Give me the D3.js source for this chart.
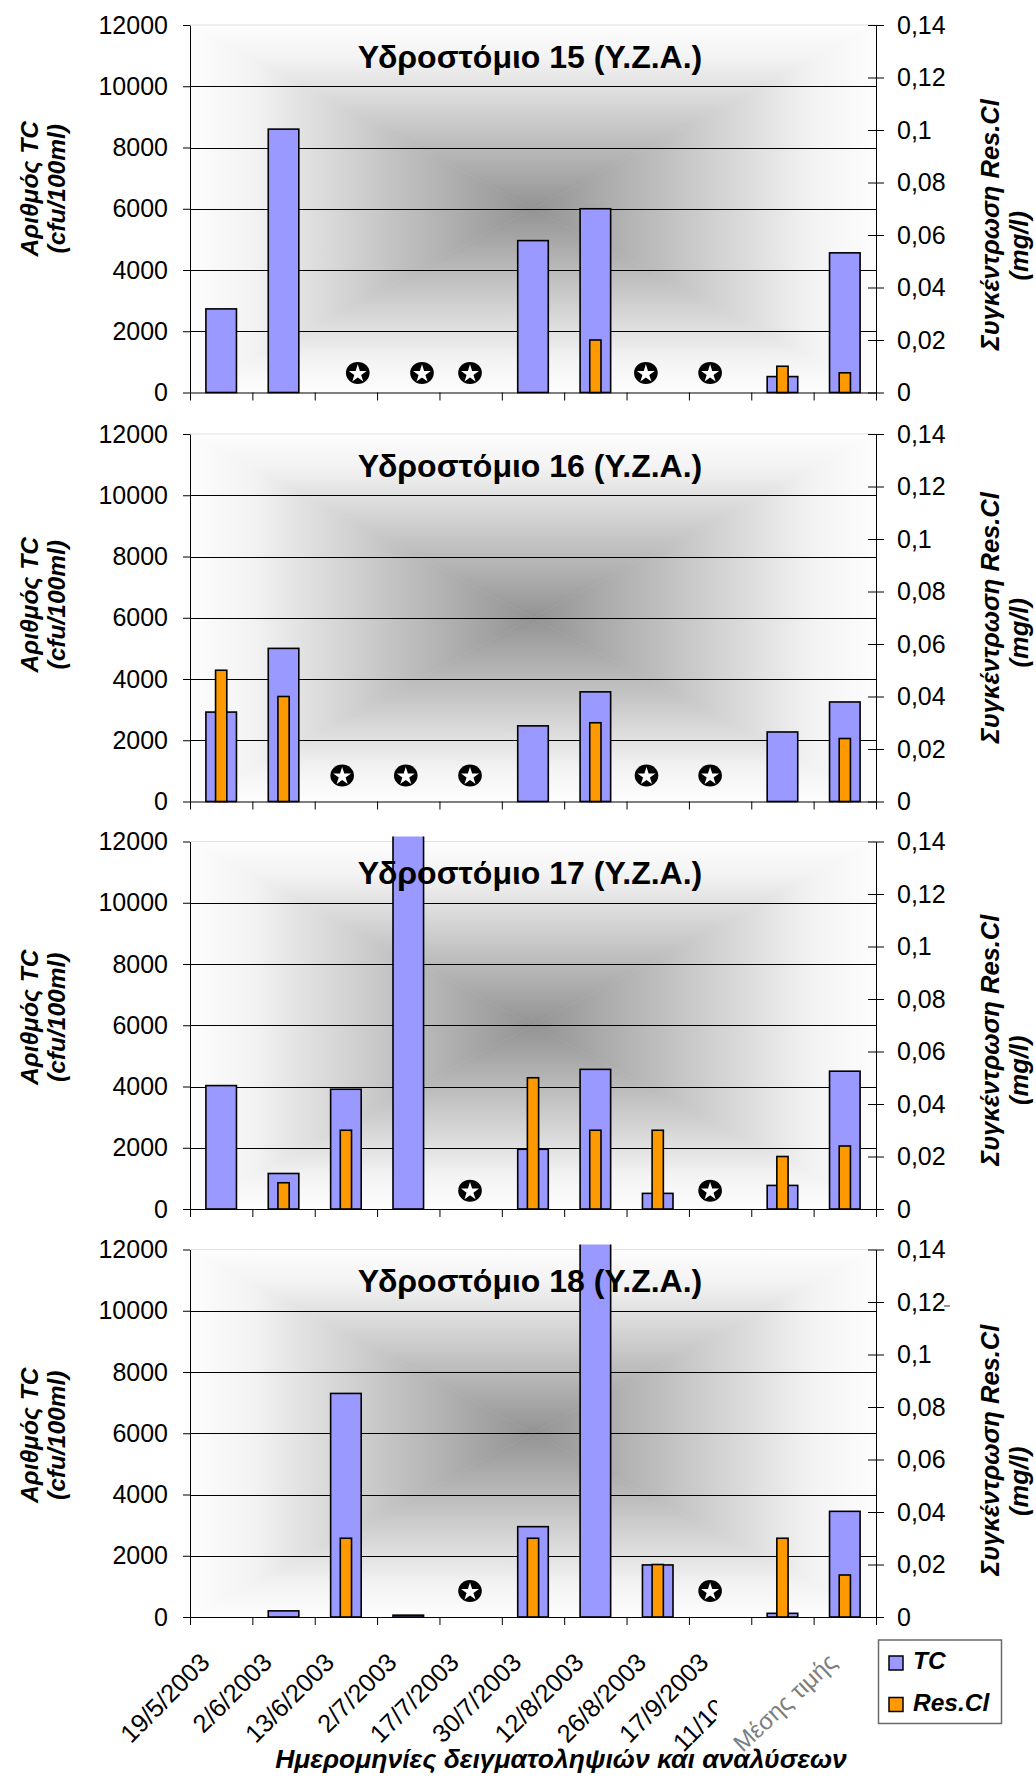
<!DOCTYPE html>
<html>
<head>
<meta charset="utf-8">
<script src="https://cdn.jsdelivr.net/npm/d3@7"></script>
<style>
  html, body { margin: 0; padding: 0; background: #fff; }
  svg { display: block; font-family: "Liberation Sans", Arial, sans-serif; }
</style>
</head>
<body>
<svg id="chart" width="1036" height="1780"></svg>
<script>
// Sampling dates (last category is the mean value column)
const categories = ["19/5/2003", "2/6/2003", "13/6/2003", "2/7/2003", "17/7/2003",
  "30/7/2003", "12/8/2003", "26/8/2003", "17/9/2003", "11/10/2003", "Μέσης τιμής"];

const stationTitles = ["Υδροστόμιο 15 (Υ.Ζ.Α.)", "Υδροστόμιο 16 (Υ.Ζ.Α.)",
  "Υδροστόμιο 17 (Υ.Ζ.Α.)", "Υδροστόμιο 18 (Υ.Ζ.Α.)"];

// Total coliforms (cfu/100ml); null = no sample taken
const tc15 = [2730, 8600, null, null, null, 4960, 6000, null, null, 520, 4560];
const tc16 = [2920, 5000, null, null, null, 2470, 3580, null, null, 2270, 3250];
const tc17 = [4030, 1160, 3910, 19000, null, 1950, 4560, 510, null, 770, 4500];
const tc18 = [0, 200, 7300, 60, null, 2950, 15300, 1700, null, 120, 3450];

// Residual chlorine (mg/l)
const cl15 = [0, 0, null, null, null, 0, 0.02, null, null, 0.01, 0.0075];
const cl16 = [0.05, 0.04, null, null, null, 0, 0.03, null, null, 0, 0.024];
const cl17 = [0, 0.01, 0.03, 0, null, 0.05, 0.03, 0.03, null, 0.02, 0.024];
const cl18 = [0, 0, 0.03, 0, null, 0.03, 0, 0.02, null, 0.03, 0.016];

// "No sample" star markers: position along the category axis (in category units)
const stars15 = [2.69, 3.72, 4.49, 7.31, 8.34];
const stars16 = [2.44, 3.46, 4.49, 7.32, 8.34];
const stars17 = [4.49, 8.34];
const stars18 = [4.49, 8.34];
// height of the star markers on the TC axis
const starLevels = [640, 850, 600, 850];

const tcTicks = [0, 2000, 4000, 6000, 8000, 10000, 12000];
const clTicks = [0, 0.02, 0.04, 0.06, 0.08, 0.1, 0.12, 0.14];

const seriesNames = ["TC", "Res.Cl"];
const seriesColors = ["#9999FF", "#FF9900"];

const stations = [
  { title: stationTitles[0], tc: tc15, cl: cl15, stars: stars15, starLevel: starLevels[0] },
  { title: stationTitles[1], tc: tc16, cl: cl16, stars: stars16, starLevel: starLevels[1] },
  { title: stationTitles[2], tc: tc17, cl: cl17, stars: stars17, starLevel: starLevels[2] },
  { title: stationTitles[3], tc: tc18, cl: cl18, stars: stars18, starLevel: starLevels[3] }
];

// ---- layout ----
const X0 = 190, X1 = 876;
const panelTops = [25, 434, 841.5, 1249.5];
const panelH = 367.5;
// vertical offsets of the rotated axis titles from the panel centre
const leftTitleShift = [-20, -13, -8, 2];
const rightTitleShift = [[16, 37], [0, 15], [15, 45], [17, 48]];

const svg = d3.select("#chart");
const defs = svg.append("defs");

const xBand = d3.scaleBand().domain(d3.range(categories.length)).range([X0, X1]);
const xPos = d3.scaleLinear().domain([0, categories.length]).range([X0, X1]);

// rectangular "from centre" shading of a plot area, built from four triangles
function centreShade(g, x0, y0, x1, y1, id) {
  const cx = (x0 + x1) / 2, cy = (y0 + y1) / 2;
  const parts = [
    { pts: [[x0, y0], [x1, y0], [cx, cy]], from: [cx, y0] },
    { pts: [[x0, y1], [x1, y1], [cx, cy]], from: [cx, y1] },
    { pts: [[x0, y0], [x0, y1], [cx, cy]], from: [x0, cy] },
    { pts: [[x1, y0], [x1, y1], [cx, cy]], from: [x1, cy] }
  ];
  parts.forEach((p, k) => {
    const gid = `shade-${id}-${k}`;
    const lg = defs.append("linearGradient").attr("id", gid)
      .attr("gradientUnits", "userSpaceOnUse")
      .attr("x1", p.from[0]).attr("y1", p.from[1]).attr("x2", cx).attr("y2", cy);
    lg.append("stop").attr("offset", 0).attr("stop-color", "#fdfdfd");
    lg.append("stop").attr("offset", 0.18).attr("stop-color", "#f3f3f3");
    lg.append("stop").attr("offset", 1).attr("stop-color", "#939393");
    g.append("path")
      .attr("d", d3.line()(p.pts) + "Z")
      .attr("fill", `url(#${gid})`)
      .attr("stroke", `url(#${gid})`)
      .attr("stroke-width", 0.6);
  });
}

const starPath = d3.symbol().type(d3.symbolStar).size(100)();

stations.forEach((st, i) => {
  const top = panelTops[i], bottom = top + panelH;
  const yTC = d3.scaleLinear().domain([0, 12000]).range([bottom, top]);
  const yCl = d3.scaleLinear().domain([0, 0.14]).range([bottom, top]);
  const g = svg.append("g");

  centreShade(g, X0, top, X1, bottom, i);

  // plot area top edge
  g.append("line").attr("x1", X0).attr("x2", X1).attr("y1", top).attr("y2", top)
    .attr("stroke", "#e2e2e2").attr("stroke-width", 1);

  // gridlines
  g.selectAll(".grid").data(tcTicks.filter(t => t > 0 && t < 12000)).join("line")
    .attr("x1", X0).attr("x2", X1)
    .attr("y1", d => Math.round(yTC(d)) + 0.5).attr("y2", d => Math.round(yTC(d)) + 0.5)
    .attr("stroke", "#000").attr("stroke-width", 1);

  // bars (clipped just above the plot area)
  const clipId = `clip-${i}`;
  defs.append("clipPath").attr("id", clipId).append("rect")
    .attr("x", X0 - 2).attr("y", top - 5).attr("width", X1 - X0 + 4).attr("height", panelH + 7);
  const bars = g.append("g").attr("clip-path", `url(#${clipId})`);
  const bw = xBand.bandwidth();
  const tcW = bw * 0.49, clW = bw * 0.18;

  bars.selectAll(".tc").data(st.tc.map((v, k) => ({ v, k })).filter(d => d.v != null && d.v > 0))
    .join("rect")
    .attr("x", d => xBand(d.k) + bw / 2 - tcW / 2)
    .attr("width", tcW)
    .attr("y", d => yTC(d.v))
    .attr("height", d => yTC(0) - yTC(d.v))
    .attr("fill", seriesColors[0]).attr("stroke", "#000").attr("stroke-width", 1.6);

  bars.selectAll(".cl").data(st.cl.map((v, k) => ({ v, k })).filter(d => d.v != null && d.v > 0))
    .join("rect")
    .attr("x", d => xBand(d.k) + bw / 2 - clW / 2)
    .attr("width", clW)
    .attr("y", d => yCl(d.v))
    .attr("height", d => yCl(0) - yCl(d.v))
    .attr("fill", seriesColors[1]).attr("stroke", "#000").attr("stroke-width", 1.6);

  // title, drawn over the bars
  g.append("text")
    .attr("x", (X0 + X1) / 2 - 3).attr("y", top + 42.5)
    .attr("text-anchor", "middle")
    .attr("font-size", 32).attr("font-weight", "bold")
    .text(st.title);

  // "no sample" markers
  const sg = g.selectAll(".star").data(st.stars).join("g")
    .attr("transform", d => `translate(${xPos(d)},${yTC(st.starLevel)})`);
  sg.append("ellipse").attr("rx", 11.8).attr("ry", 11).attr("fill", "#000");
  sg.append("path").attr("d", starPath).attr("fill", "#fff").attr("transform", "translate(0,0.9)");

  // left axis
  const axL = g.append("g").attr("transform", `translate(${X0},0)`)
    .call(d3.axisLeft(yTC).tickValues(tcTicks).tickSize(7).tickSizeOuter(0).tickPadding(15)
      .tickFormat(d3.format("d")));
  axL.select(".domain").attr("stroke", "#000");
  axL.selectAll("text").attr("font-size", 25).attr("font-family", "Liberation Sans, Arial, sans-serif").attr("fill", "#000");

  // right axis (ticks cross the axis line)
  const axR = g.append("g").attr("transform", `translate(${X1},0)`)
    .call(d3.axisRight(yCl).tickValues(clTicks).tickSize(8).tickSizeOuter(0).tickPadding(13)
      .tickFormat(d => d === 0 ? "0" : String(d).replace(".", ",")));
  axR.selectAll(".tick line").attr("x1", -8).attr("x2", 8);
  axR.selectAll("text").attr("font-size", 25).attr("font-family", "Liberation Sans, Arial, sans-serif").attr("fill", "#000");

  // category axis with tick marks between categories
  const axB = g.append("g").attr("transform", `translate(0,${bottom})`)
    .call(d3.axisBottom(xPos).tickValues(d3.range(categories.length + 1)).tickSize(8)
      .tickSizeOuter(0).tickFormat(""));
  axB.select(".domain").attr("stroke", "#000");

  // axis titles
  const cy = (top + bottom) / 2;
  const lt = g.append("text")
    .attr("transform", `translate(0,${cy + leftTitleShift[i]}) rotate(-90)`)
    .attr("text-anchor", "middle")
    .attr("font-size", 24.5).attr("font-weight", "bold").attr("font-style", "italic");
  lt.append("tspan").attr("x", 0).attr("y", 37.5).text("Αριθμός TC");
  lt.append("tspan").attr("x", 0).attr("y", 65).text("(cfu/100ml)");

  g.append("text")
    .attr("transform", `translate(999,${cy + rightTitleShift[i][0]}) rotate(-90)`)
    .attr("text-anchor", "middle")
    .attr("font-size", 25.5).attr("font-weight", "bold").attr("font-style", "italic")
    .text("Συγκέντρωση Res.Cl");
  g.append("text")
    .attr("transform", `translate(1028,${cy + rightTitleShift[i][1]}) rotate(-90)`)
    .attr("text-anchor", "middle")
    .attr("font-size", 25.5).attr("font-weight", "bold").attr("font-style", "italic")
    .text("(mg/l)");

  if (i === 3) {
    // stray dash beside the 0,12 label
    g.append("line").attr("x1", X1 + 68).attr("x2", X1 + 74)
      .attr("y1", yCl(0.12) + 4).attr("y2", yCl(0.12) + 4)
      .attr("stroke", "#333").attr("stroke-width", 1);

    // date labels
    defs.append("clipPath").attr("id", "clip-lastdate").append("rect")
      .attr("x", 0).attr("y", bottom).attr("width", 717).attr("height", 200);
    const labG = g.append("g");
    categories.forEach((c, k) => {
      const isMean = k === categories.length - 1;
      const holder = labG.append("g");
      if (k === categories.length - 2) holder.attr("clip-path", "url(#clip-lastdate)");
      const t = holder.append("text")
        .attr("text-anchor", "end")
        .text(c);
      if (isMean) {
        t.attr("transform", `translate(${xBand(k) + bw / 2 - 6.5},${bottom + 47}) rotate(-43)`)
          .attr("font-size", 24).attr("fill", "#7d7d7d");
      } else {
        t.attr("transform", `translate(${xBand(k) + bw / 2 - 10},${bottom + 47}) rotate(-45)`)
          .attr("font-size", 25.5).attr("fill", "#000");
      }
    });
    // x axis title
    g.append("text")
      .attr("x", 561).attr("y", bottom + 151)
      .attr("text-anchor", "middle")
      .attr("font-size", 26.5).attr("font-weight", "bold").attr("font-style", "italic")
      .text("Ημερομηνίες δειγματοληψιών και αναλύσεων");
  }
});

// legend
const lg = svg.append("g").attr("transform", "translate(878.5,1640)");
lg.append("rect").attr("width", 123).attr("height", 83.5)
  .attr("fill", "#fff").attr("stroke", "#6a6a6a").attr("stroke-width", 1.5);
seriesNames.forEach((n, k) => {
  const row = lg.append("g").attr("transform", `translate(0,${k * 41.5})`);
  row.append("rect").attr("x", 10.5).attr("y", 16).attr("width", 14).attr("height", 14)
    .attr("fill", seriesColors[k]).attr("stroke", "#000").attr("stroke-width", 1.5);
  row.append("text").attr("x", 34.5).attr("y", 29)
    .attr("font-size", 24.5).attr("font-weight", "bold").attr("font-style", "italic")
    .text(n);
});
</script>
</body>
</html>
